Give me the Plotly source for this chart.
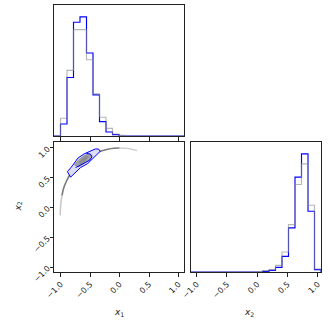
import numpy as np
import plotly.graph_objects as go

# Plage des axes
X1_RANGE = (-1.115, 1.095)
X2_RANGE = (-1.094, 1.055)
X2_RANGE_2D = (-1.08, 1.10)
N_BINS = 20
TICKS = [-1.0, -0.5, 0.0, 0.5, 1.0]
TICK_TEXT = ["\u22121.0", "\u22120.5", "0.0", "0.5", "1.0"]

# Histogrammes x1 (20 bins)
x1_blue = [0, 36, 175, 340, 356, 248, 123, 43, 12, 4, 0, 0, 0, 0, 0, 0, 0, 0, 0, 0]
x1_gray = [0, 53, 196, 318, 318, 228, 126, 56, 23, 6, 2, 0, 0, 0, 0, 0, 0, 0, 0, 0]

# Histogrammes x2 (20 bins)
x2_blue = [0, 0, 0, 0, 0, 0, 0, 0, 0, 0, 0, 2, 5, 14, 47, 132, 284, 354, 182, 7]
x2_gray = [0, 0, 0, 0, 0, 0, 0, 0, 0, 0, 1, 4, 7, 20, 60, 142, 262, 324, 200, 9]

# Arc des échantillons (x1, x2)
arc_x1 = [-1.01, -1.0, -0.98, -0.95, -0.9, -0.84, -0.77, -0.69, -0.6, -0.5, -0.4,
          -0.3, -0.2, -0.1, 0.0, 0.1, 0.2, 0.3]
arc_x2 = [-0.13, 0.05, 0.2, 0.33, 0.45, 0.56, 0.65, 0.73, 0.8, 0.87, 0.92,
          0.955, 0.98, 0.995, 1.0, 0.995, 0.98, 0.955]

# Contours
outer_x1 = [-0.888, -0.804, -0.709, -0.609, -0.413, -0.358, -0.330, -0.469, -0.542, -0.665, -0.832, -0.888]
outer_x2 = [0.602, 0.699, 0.830, 0.898, 0.983, 0.983, 0.943, 0.813, 0.739, 0.670, 0.511, 0.602]
mid_x1 = [-0.765, -0.709, -0.609, -0.525, -0.469, -0.497, -0.581, -0.693, -0.765]
mid_x2 = [0.716, 0.784, 0.869, 0.898, 0.869, 0.813, 0.756, 0.682, 0.716]
inner_x1 = [-0.70, -0.62, -0.55, -0.53, -0.58, -0.66, -0.70]
inner_x2 = [0.75, 0.83, 0.87, 0.85, 0.79, 0.73, 0.75]
blue_in_x1 = [-0.749, -0.609, -0.508, -0.469, -0.497, -0.564]
blue_in_x2 = [0.670, 0.739, 0.795, 0.852, 0.898, 0.909]


def step_line(counts, lo, hi):
    """Contour d'un histogramme en escalier."""
    edges = np.linspace(lo, hi, N_BINS + 1)
    xs = np.concatenate([[edges[0]], edges])
    ys = np.concatenate([[0], counts, [0]])
    return xs, ys


fig = go.Figure()

# Histogramme x1
for counts, color, op in [(x1_blue, "blue", 1.0), (x1_gray, "#888888", 0.6)]:
    xs, ys = step_line(counts, *X1_RANGE)
    fig.add_trace(go.Scatter(x=xs, y=ys, mode="lines", line=dict(color=color, width=1.15, shape="hv"),
                             opacity=op, xaxis="x", yaxis="y", showlegend=False))

# Histogramme x2
for counts, color, op in [(x2_blue, "blue", 1.0), (x2_gray, "#888888", 0.6)]:
    xs, ys = step_line(counts, *X2_RANGE)
    fig.add_trace(go.Scatter(x=xs, y=ys, mode="lines", line=dict(color=color, width=1.15, shape="hv"),
                             opacity=op, xaxis="x3", yaxis="y3", showlegend=False))

# Arc (extrémités plus claires)
fig.add_trace(go.Scatter(x=arc_x1[:3], y=arc_x2[:3], mode="lines",
                         line=dict(color="#c8c8c8", width=1.5, shape="spline"),
                         xaxis="x2", yaxis="y2", showlegend=False))
fig.add_trace(go.Scatter(x=arc_x1[2:-3], y=arc_x2[2:-3], mode="lines",
                         line=dict(color="#7a7a7a", width=1.6, shape="spline"),
                         xaxis="x2", yaxis="y2", showlegend=False))
fig.add_trace(go.Scatter(x=arc_x1[-4:], y=arc_x2[-4:], mode="lines",
                         line=dict(color="#d0d0d0", width=1.5, shape="spline"),
                         xaxis="x2", yaxis="y2", showlegend=False))

# Contours remplis
fig.add_trace(go.Scatter(x=outer_x1, y=outer_x2, mode="lines", fill="toself",
                         fillcolor="#dedef2", line=dict(color="blue", width=1),
                         xaxis="x2", yaxis="y2", showlegend=False))
fig.add_trace(go.Scatter(x=mid_x1, y=mid_x2, mode="lines", fill="toself",
                         fillcolor="#a4a4ac", line=dict(color="#85858f", width=0.8),
                         xaxis="x2", yaxis="y2", showlegend=False))
fig.add_trace(go.Scatter(x=inner_x1, y=inner_x2, mode="lines", fill="toself",
                         fillcolor="#8c8c8c", line=dict(color="#8c8c8c", width=0.5),
                         xaxis="x2", yaxis="y2", showlegend=False))
fig.add_trace(go.Scatter(x=blue_in_x1, y=blue_in_x2, mode="lines",
                         line=dict(color="blue", width=1),
                         xaxis="x2", yaxis="y2", showlegend=False))

W, H = 330, 327
dom_x_left = [54 / W, 184 / W]
dom_x_right = [191 / W, 321 / W]
dom_y_top = [1 - 136 / H, 1 - 5 / H]
dom_y_bot = [1 - 272 / H, 1 - 142 / H]

tick_font = dict(family="DejaVu Sans", size=8, color="#222222")
frame = dict(showline=True, mirror=True, linecolor="#222222", linewidth=1,
             showgrid=False, zeroline=False, automargin=False)
xticks = dict(ticks="outside", ticklen=3.5, tickwidth=1, tickcolor="#222222",
              tickvals=TICKS, ticktext=TICK_TEXT, tickangle=-45, tickfont=tick_font)

fig.update_layout(
    width=W, height=H,
    template="none",
    margin=dict(l=0, r=0, t=0, b=0, autoexpand=False),
    paper_bgcolor="white", plot_bgcolor="white",
    xaxis=dict(domain=dom_x_left, range=X1_RANGE, anchor="y", showticklabels=False, **frame, **xticks),
    yaxis=dict(domain=dom_y_top, range=[0, 1.1 * max(x1_blue)], anchor="x",
               showticklabels=False, ticks="", **frame),
    xaxis2=dict(domain=dom_x_left, range=X1_RANGE, anchor="y2", **frame, **xticks),
    yaxis2=dict(domain=dom_y_bot, range=X2_RANGE_2D, anchor="x2", **frame, **xticks),
    xaxis3=dict(domain=dom_x_right, range=X2_RANGE, anchor="y3", **frame, **xticks),
    yaxis3=dict(domain=dom_y_bot, range=[0, 1.1 * max(x2_blue)], anchor="x3",
                showticklabels=False, ticks="", **frame),
)

label_font = dict(family="DejaVu Sans", size=9, color="#222222")
fig.add_annotation(text="<i>x</i><sub>1</sub>", x=119 / W, y=1 - 320 / H, xref="paper", yref="paper",
                   showarrow=False, font=label_font)
fig.add_annotation(text="<i>x</i><sub>2</sub>", x=256 / W, y=1 - 320 / H, xref="paper", yref="paper",
                   showarrow=False, font=label_font)
fig.add_annotation(text="<i>x</i><sub>2</sub>", x=10 / W, y=1 - 207 / H, xref="paper", yref="paper",
                   showarrow=False, font=label_font, textangle=-90)

# Marge du body à zéro pour que la figure occupe toute la fenêtre
fig.write_html("out.html", config={"displayModeBar": False},
               post_script="document.body.style.margin='0';")
